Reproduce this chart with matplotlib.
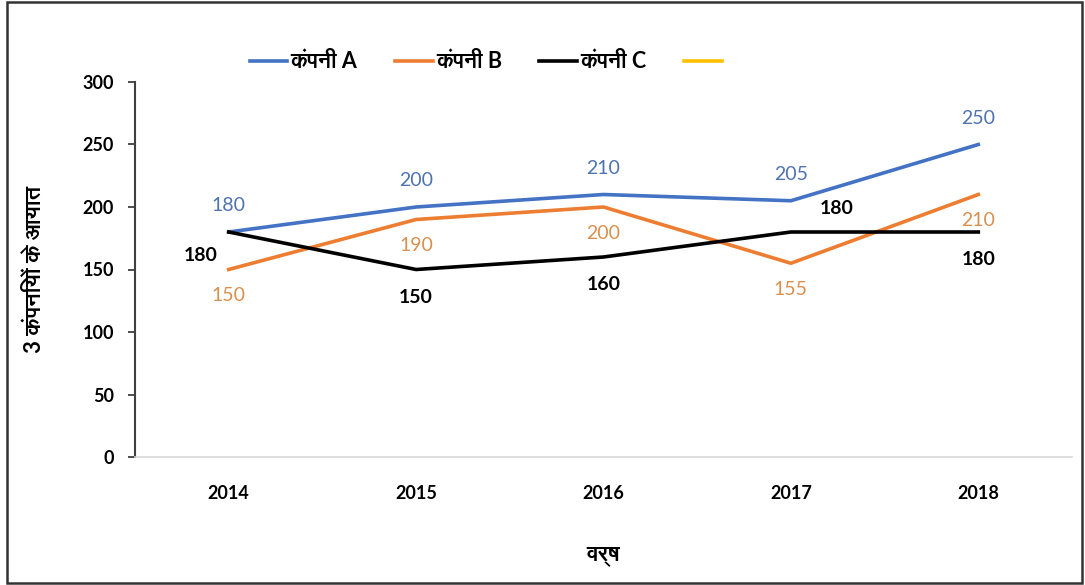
import matplotlib
matplotlib.use("Agg")
import matplotlib.pyplot as plt
from matplotlib.patches import Rectangle
from matplotlib import font_manager

years = ["2014", "2015", "2016", "2017", "2018"]
company_a = [180, 200, 210, 205, 250]
company_b = [150, 190, 200, 155, 210]
company_c = [180, 150, 160, 180, 180]
series_names = ["कंपनी A", "कंपनी B", "कंपनी C", " "]
y_ticks = [0, 50, 100, 150, 200, 250, 300]
y_label = "3 कंपनियों के आयात"
x_label = "वर्ष"

# pick any installed font with Devanagari coverage
deva = []
for f in font_manager.fontManager.ttflist:
    n = f.name
    if "Devanagari" in n or n in ("Lohit Devanagari", "FreeSans", "Mukta", "Hind", "Kalimati", "Gargi", "Sarai"):
        if n not in deva:
            deva.append(n)
fams = ["Lato"] + deva + ["DejaVu Sans"]
plt.rcParams["font.family"] = fams

col_a, col_b, col_c, col_d = "#4472C4", "#ED7D31", "#000000", "#FFC000"
lab_a, lab_b, lab_c = "#4F72B0", "#D9904F", "#000000"

fig = plt.figure(figsize=(10.85, 5.85), dpi=100)
ax = fig.add_axes([135/1085, 1-457/585, (1072-135)/1085, (457-82)/585])

x = list(range(len(years)))
ax.plot(x, company_a, color=col_a, lw=2.6, label=series_names[0])
ax.plot(x, company_b, color=col_b, lw=2.6, label=series_names[1])
ax.plot(x, company_c, color=col_c, lw=2.6, label=series_names[2])
ax.plot([], [], color=col_d, lw=2.6, label=series_names[3])

ax.set_xlim(-0.5, 4.5)
ax.set_ylim(0, 300)
ax.set_yticks(y_ticks)
ax.set_xticks(x)
ax.set_xticklabels(years)
for s in ("top", "right"):
    ax.spines[s].set_visible(False)
ax.spines["left"].set_color("#404040")
ax.spines["left"].set_linewidth(1.5)
ax.spines["bottom"].set_color("#d9d9d9")
ax.spines["bottom"].set_linewidth(1.2)
ax.tick_params(axis="y", length=5, width=1.3, color="#404040", pad=10, labelsize=13)
ax.tick_params(axis="x", length=0, pad=20, labelsize=13)
for t in ax.get_xticklabels() + ax.get_yticklabels():
    t.set_fontweight("bold")

def lab(i, v, dx, dy, color, weight):
    ax.annotate(str(v), (i, v), xytext=(dx, dy), textcoords="offset points",
                ha="center", va="center", fontsize=14, color=color, fontweight=weight)

for i, v in enumerate(company_a):
    lab(i, v, 0, 19, lab_a, "normal")
for i, v in enumerate(company_b):
    lab(i, v, 0, -19, lab_b, "normal")
c_off = [(-20, -17), (0, -20), (0, -20), (33, 17), (0, -20)]
for i, v in enumerate(company_c):
    lab(i, v, c_off[i][0], c_off[i][1], lab_c, "bold")

ax.set_ylabel(y_label, fontsize=16, fontweight="bold")
ax.yaxis.set_label_coords(-90/937, 0.5)
ax.set_xlabel(x_label, fontsize=16, fontweight="bold")
ax.xaxis.set_label_coords(0.5, -88/375)

leg = ax.legend(loc="center", bbox_to_anchor=(490/1085, 1-62/585), bbox_transform=fig.transFigure,
                ncol=4, frameon=False, fontsize=15.5, handlelength=1.75, handletextpad=0.15,
                columnspacing=1.75)
for t in leg.get_texts():
    t.set_fontweight("bold")

fig.patches.append(Rectangle((7/1085, 2/585), (1082-7)/1085, (583-2)/585, transform=fig.transFigure,
                             fill=False, edgecolor="#333333", lw=1.8))

fig.savefig("out.png", dpi=100)
